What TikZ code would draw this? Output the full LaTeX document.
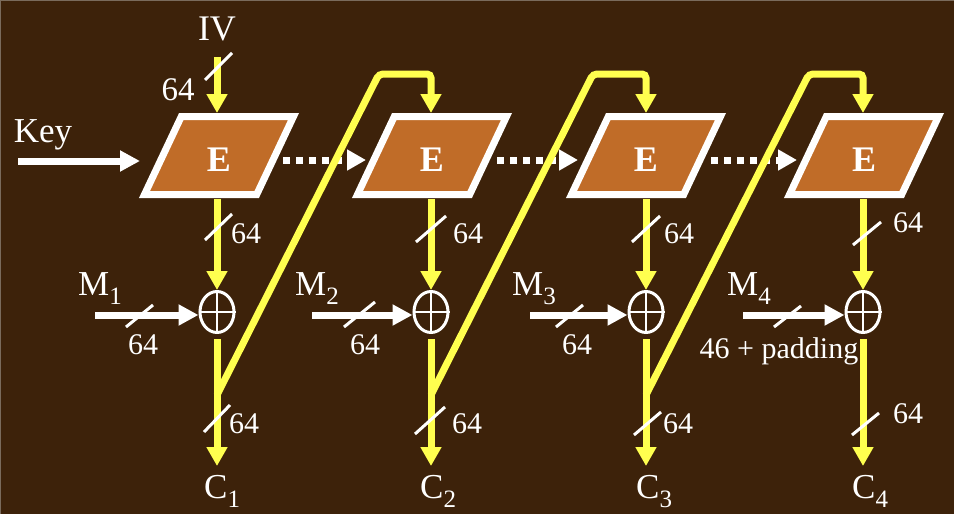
\documentclass[tikz,border=0pt]{standalone}
\usepackage{fontspec}
\setmainfont{Liberation Serif}
\usetikzlibrary{arrows.meta,shapes.geometric,calc}
\definecolor{bg}{HTML}{3D220A}
\definecolor{efill}{HTML}{C06C28}
\definecolor{yel}{HTML}{FFFF4F}
\definecolor{bord}{HTML}{7A6B5C}
\newcommand\mysub[1]{\raisebox{-9pt}{\fontsize{25}{25}\selectfont #1}}
\newcommand\ebox[2]{%
  \draw[white, line width=7pt, fill=efill, line join=miter]
    ({#1-37.7},116.5) -- ({#1+74.5},116.5) -- ({#1+37.7},194.5) -- ({#1-74.5},194.5) -- cycle;
  \node[etext] (#2) at (#1,171) {E};}
\begin{document}
\begin{tikzpicture}[x=1pt,y=-1pt,
  yarrow/.style={draw=yel, line width=7pt, -{Triangle[length=19pt,width=20pt]}},
  warrow/.style={draw=white, line width=7pt, -{Triangle[length=20pt,width=20pt]}},
  dotarrow/.style={draw=white, line width=7pt, dash pattern=on 7pt off 6pt, -{Triangle[length=19pt,width=20pt]}},
  feedback/.style={draw=yel, line width=7pt, rounded corners=4pt, -{Triangle[length=19pt,width=20pt]}},
  slashmark/.style={draw=white, line width=3pt},
  xorc/.style={draw=white, line width=3pt, ellipse, minimum width=34pt, minimum height=41pt, inner sep=0pt},
  crossline/.style={draw=white, line width=2.5pt},
  etext/.style={text=white, inner sep=0pt, anchor=base, font=\fontsize{36}{40}\selectfont\bfseries},
  biglbl/.style={text=white, inner sep=0pt, anchor=base, font=\fontsize{35}{40}\selectfont},
  biglblw/.style={biglbl, anchor=base west},
  smlbl/.style={text=white, inner sep=0pt, anchor=base, font=\fontsize{30}{34}\selectfont},
]
\useasboundingbox (0,0) rectangle (954,514);
\fill[bg] (0,0) rectangle (954,514);
\draw[bord, line width=1pt] (0.5,514) -- (0.5,0.5) -- (954,0.5);

% encryption boxes
\ebox{219}{e1}
\ebox{432}{e2}
\ebox{646}{e3}
\ebox{864}{e4}

% xor nodes
\node[xorc] (x1) at (217,312) {};
\node[xorc] (x2) at (431,312) {};
\node[xorc] (x3) at (646,312) {};
\node[xorc] (x4) at (863,312) {};
\foreach \n in {x1,x2,x3,x4}{
  \draw[crossline] (\n.north) -- (\n.south) (\n.west) -- (\n.east);
}

% coordinates
\coordinate (e1t) at (217,113); \coordinate (e1b) at (217,199);
\coordinate (e2t) at (431,113); \coordinate (e2b) at (431,199);
\coordinate (e3t) at (646,113); \coordinate (e3b) at (646,199);
\coordinate (e4t) at (863,113); \coordinate (e4b) at (863,199);
\coordinate (c1a) at (217,466); \coordinate (c2a) at (431,466);
\coordinate (c3a) at (646,466); \coordinate (c4a) at (863,466);
\coordinate (j1) at (217,395); \coordinate (j2) at (431,395); \coordinate (j3) at (646,395);
\coordinate (t1) at (379,74); \coordinate (t2) at (593,74); \coordinate (t3) at (809,74);
\coordinate (r1) at (431,74); \coordinate (r2) at (646,74); \coordinate (r3) at (863,74);
\coordinate (m1s) at (95,315); \coordinate (m2s) at (312,315);
\coordinate (m3s) at (530,315); \coordinate (m4s) at (743,315);
\coordinate (keys) at (18,161); \coordinate (keye) at (140,161);
\coordinate (d1s) at (283,160); \coordinate (d1e) at (366,160);
\coordinate (d2s) at (497,160); \coordinate (d2e) at (578,160);
\coordinate (d3s) at (711,160); \coordinate (d3e) at (797,160);

% labels
\node[text=white, inner sep=0pt, anchor=base, font=\fontsize{36}{40}\selectfont] (iv) at (217,40) {IV};
\node[text=white, inner sep=0pt, anchor=base, font=\fontsize{33}{36}\selectfont] (l0) at (178,100) {64};
\node[biglbl] (key) at (43,142) {Key};
\node[smlbl] (u1) at (246,243) {64};
\node[smlbl] (u2) at (468,243) {64};
\node[smlbl] (u3) at (679,243) {64};
\node[smlbl] (u4) at (908,232) {64};
\node[biglblw] (m1) at (78,295) {M\mysub{1}};
\node[biglblw] (m2) at (295,295) {M\mysub{2}};
\node[biglblw] (m3) at (512,295) {M\mysub{3}};
\node[biglblw] (m4) at (727,295) {M\mysub{4}};
\node[smlbl] (n1) at (143,354) {64};
\node[smlbl] (n2) at (365,354) {64};
\node[smlbl] (n3) at (577,354) {64};
\node[smlbl] (n4) at (779,358) {46 + padding};
\node[smlbl] (b1) at (244,433) {64};
\node[smlbl] (b2) at (467,433) {64};
\node[smlbl] (b3) at (678,433) {64};
\node[smlbl] (b4) at (908,423) {64};
\node[biglblw] (c1) at (204,498) {C\mysub{1}};
\node[biglblw] (c2) at (420,498) {C\mysub{2}};
\node[biglblw] (c3) at (636,498) {C\mysub{3}};
\node[biglblw] (c4) at (852,498) {C\mysub{4}};

% white arrows
\draw[warrow] (keys) -- (keye);
\draw[warrow] (m1s) -- (x1.west |- m1s);
\draw[warrow] (m2s) -- (x2.west |- m2s);
\draw[warrow] (m3s) -- (x3.west |- m3s);
\draw[warrow] (m4s) -- (x4.west |- m4s);
\draw[dotarrow] (d1s) -- (d1e);
\draw[dotarrow] (d2s) -- (d2e);
\draw[dotarrow] (d3s) -- (d3e);

% yellow arrows
\draw[yarrow] ([yshift=-16pt]iv.south) -- (e1t);
\draw[yarrow] (e1b) -- (x1.north);
\draw[yarrow] (e2b) -- (x2.north);
\draw[yarrow] (e3b) -- (x3.north);
\draw[yarrow] (e4b) -- (x4.north);
\draw[yarrow, shorten <=5pt] (x1.south) -- (c1a);
\draw[yarrow, shorten <=5pt] (x2.south) -- (c2a);
\draw[yarrow, shorten <=5pt] (x3.south) -- (c3a);
\draw[yarrow, shorten <=5pt] (x4.south) -- (c4a);
\draw[feedback] (j1) -- (t1) -- (r1) -- (e2t);
\draw[feedback] (j2) -- (t2) -- (r2) -- (e3t);
\draw[feedback] (j3) -- (t3) -- (r3) -- (e4t);

% bus width slashes
\draw[slashmark] (205,80) -- (232,53);
\draw[slashmark] (205,240) -- (232,214);
\draw[slashmark] (416,242) -- (446,216);
\draw[slashmark] (632,242) -- (660,216);
\draw[slashmark] (853,245) -- (881,222);
\draw[slashmark] (126,327) -- (153,305);
\draw[slashmark] (344,327) -- (375,302);
\draw[slashmark] (556,327) -- (583,305);
\draw[slashmark] (774,327) -- (801,306);
\draw[slashmark] (204,432) -- (230,405);
\draw[slashmark] (415,434) -- (445,407);
\draw[slashmark] (634,435) -- (661,412);
\draw[slashmark] (852,435) -- (879,413);
\end{tikzpicture}
\end{document}
